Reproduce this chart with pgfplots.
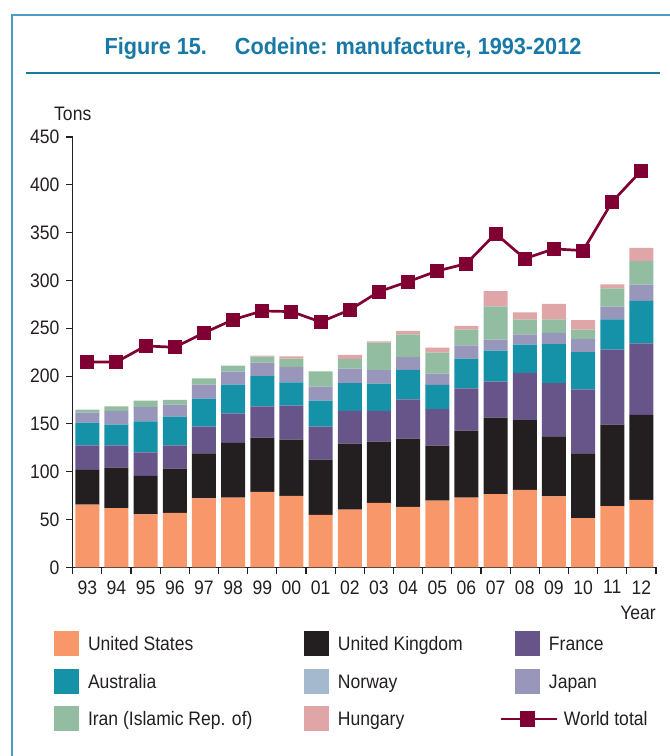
\documentclass[border=0pt]{standalone}
\usepackage{pgfplots}
\pgfplotsset{compat=1.18}
\usepackage{pgfplotstable}
\usepackage{fontspec}
\setmainfont{Liberation Sans}[FakeStretch=0.9]
\newfontfamily\titlefont{Liberation Sans}[FakeStretch=0.93]
\definecolor{usc}{HTML}{F7976A}
\definecolor{ukc}{HTML}{231F20}
\definecolor{frc}{HTML}{67558A}
\definecolor{auc}{HTML}{1692A8}
\definecolor{noc}{HTML}{A5B9CE}
\definecolor{jpc}{HTML}{9996BB}
\definecolor{irc}{HTML}{93BDA0}
\definecolor{huc}{HTML}{E0A6A7}
\definecolor{worldc}{HTML}{800033}
\definecolor{titlec}{HTML}{1878A6}
\definecolor{framec}{HTML}{4A9CC9}
\definecolor{textc}{HTML}{231F20}

\pgfplotstableread{
x us uk fr au no jp ir hu world
0 65.5 36.3 25.8 23.7 0 10.4 3.2 0 214.7
1 62.0 42.2 23.4 21.6 0 14.0 5.2 0 214.7
2 55.4 40.1 24.8 32.4 0 14.7 6.9 0 231.5
3 56.8 46.4 24.4 29.9 0 12.6 4.9 0 230.1
4 72.2 47.0 27.9 29.3 0 14.6 6.7 0 245.1
5 72.8 57.2 31.1 29.9 0 13.6 6.3 0 259.0
6 78.8 56.8 32.8 31.4 0 14.2 6.3 1.0 268.1
7 74.6 58.9 35.6 24.4 0 16.0 8.7 2.5 267.4
8 54.7 57.9 34.5 27.2 0 14.6 16.1 0 256.6
9 60.3 69.0 34.2 29.0 0 15.2 9.9 4.5 269.2
10 67.3 64.1 32.1 28.6 0 14.0 28.8 1.5 288.3
11 63.1 71.4 41.2 30.7 0 13.3 24.0 3.5 298.7
12 69.7 57.5 38.1 25.4 0 11.8 22.0 5.2 309.9
13 72.8 70.1 44.3 31.0 0 14.0 16.3 3.9 317.6
14 76.4 80.1 37.7 32.4 0 11.5 34.9 15.7 349.0
15 80.9 72.9 49.4 29.6 0 10.9 15.3 7.7 322.8
16 74.3 62.7 55.5 40.8 0 11.8 14.3 16.0 333.0
17 51.3 67.9 67.0 38.7 0 13.6 10.0 9.9 331.2
18 64.1 85.1 78.4 31.8 0 13.2 19.2 4.2 382.4
19 70.4 88.9 75.0 44.3 0 17.0 24.5 13.9 414.9
}\datatable

\begin{document}
\begin{tikzpicture}
\useasboundingbox (0pt,0pt) rectangle (670pt,756pt);
\draw[framec, line width=1.5pt] (12pt,-5pt) -- (12pt,741pt) -- (680pt,741pt);
\draw[titlec, line width=1.5pt] (26pt,683pt) -- (660pt,683pt);
\node[anchor=base, text=titlec, font=\titlefont\bfseries\fontsize{23.3}{26}\selectfont, inner sep=0pt] at (343pt,701pt) {Figure 15.\hspace{28pt}Codeine: manufacture, 1993-2012};

\begin{axis}[
  at={(72.7pt,188.7pt)}, anchor=south west,
  scale only axis, width=583.3pt, height=430.3pt,
  xmin=-0.5, xmax=19.5, ymin=0, ymax=450,
  enlarge x limits=false,
  ybar stacked, bar width=24pt,
  axis x line*=bottom, axis y line*=left,
  axis line style={textc, line width=1.1pt},
  tick align=outside, major tick length=6.7pt, minor tick length=6.7pt,
  tick style={textc, line width=1.1pt},
  xtick={0,...,19},
  xticklabels={93,94,95,96,97,98,99,00,01,02,03,04,05,06,07,08,09,10,11,12},
  every major x tick/.append style={draw=none},
  minor xtick={-0.5,0.5,...,19.5},
  ytick={0,50,...,450},
  tick label style={font=\fontsize{19.5}{22}\selectfont, text=textc},
  yticklabel style={xshift=-3pt},
  xticklabel style={yshift=-3pt},
  /pgf/number format/assume math mode=true,
  clip=false,
]
\addplot[fill=usc, draw=none] table[x=x,y=us]{\datatable};
\addplot[fill=ukc, draw=none] table[x=x,y=uk]{\datatable};
\addplot[fill=frc, draw=none] table[x=x,y=fr]{\datatable};
\addplot[fill=auc, draw=none] table[x=x,y=au]{\datatable};
\addplot[fill=noc, draw=none] table[x=x,y=no]{\datatable};
\addplot[fill=jpc, draw=none] table[x=x,y=jp]{\datatable};
\addplot[fill=irc, draw=none] table[x=x,y=ir]{\datatable};
\addplot[fill=huc, draw=none] table[x=x,y=hu]{\datatable};
\end{axis}

\begin{axis}[
  at={(72.7pt,188.7pt)}, anchor=south west,
  scale only axis, width=583.3pt, height=430.3pt,
  xmin=-0.5, xmax=19.5, ymin=0, ymax=450,
  hide axis, clip=false,
  legend columns=3, legend cell align=left,
  legend style={at={(-0.03206,-0.14804)}, anchor=north west, draw=none, fill=none,
    inner sep=0pt, outer sep=0pt, row sep=12.5pt,
    font=\fontsize{19.5}{22}\selectfont,
    nodes={inner sep=0pt, text height=18pt, text depth=4pt, text=textc},
    /tikz/every odd column/.style={column sep=9pt},
    /tikz/every even column/.style={column sep=0pt}},
]
\addlegendimage{legend image code/.code={\fill[usc, draw=none] (0pt,-12.5pt) rectangle (25pt,12.5pt);}}
\addlegendimage{legend image code/.code={\fill[ukc, draw=none] (0pt,-12.5pt) rectangle (25pt,12.5pt);}}
\addlegendimage{legend image code/.code={\fill[frc, draw=none] (0pt,-12.5pt) rectangle (25pt,12.5pt);}}
\addlegendimage{legend image code/.code={\fill[auc, draw=none] (0pt,-12.5pt) rectangle (25pt,12.5pt);}}
\addlegendimage{legend image code/.code={\fill[noc, draw=none] (0pt,-12.5pt) rectangle (25pt,12.5pt);}}
\addlegendimage{legend image code/.code={\fill[jpc, draw=none] (0pt,-12.5pt) rectangle (25pt,12.5pt);}}
\addlegendimage{legend image code/.code={\fill[irc, draw=none] (0pt,-12.5pt) rectangle (25pt,12.5pt);}}
\addlegendimage{legend image code/.code={\fill[huc, draw=none] (0pt,-12.5pt) rectangle (25pt,12.5pt);}}
\addlegendimage{legend image code/.code={\path[draw=none, fill=none] (0pt,-12.5pt) rectangle (25pt,12.5pt); \draw[overlay,worldc,line width=2pt] (-14pt,0pt) -- (42pt,0pt); \fill[overlay,worldc,draw=none] (5pt,-8pt) rectangle (20pt,8pt);}}
\addplot[worldc, line width=2.7pt, mark=square*, mark size=6.5pt, mark options={line width=0pt}, forget plot] table[x=x,y=world]{\datatable};
\legend{\makebox[216pt][l]{United States}, \makebox[177pt][l]{United Kingdom}, France, \makebox[216pt][l]{Australia}, \makebox[177pt][l]{Norway}, Japan, \makebox[216pt][l]{Iran (Islamic Rep. of)}, \makebox[177pt][l]{Hungary}, \hspace{15pt}World total}
\end{axis}

\node[anchor=base west, inner sep=0pt, font=\fontsize{19.5}{22}\selectfont, text=textc] at (54pt,635.3pt) {Tons};
\node[anchor=base east, inner sep=0pt, font=\fontsize{19.5}{22}\selectfont, text=textc] at (656pt,136pt) {Year};
\end{tikzpicture}
\end{document}
